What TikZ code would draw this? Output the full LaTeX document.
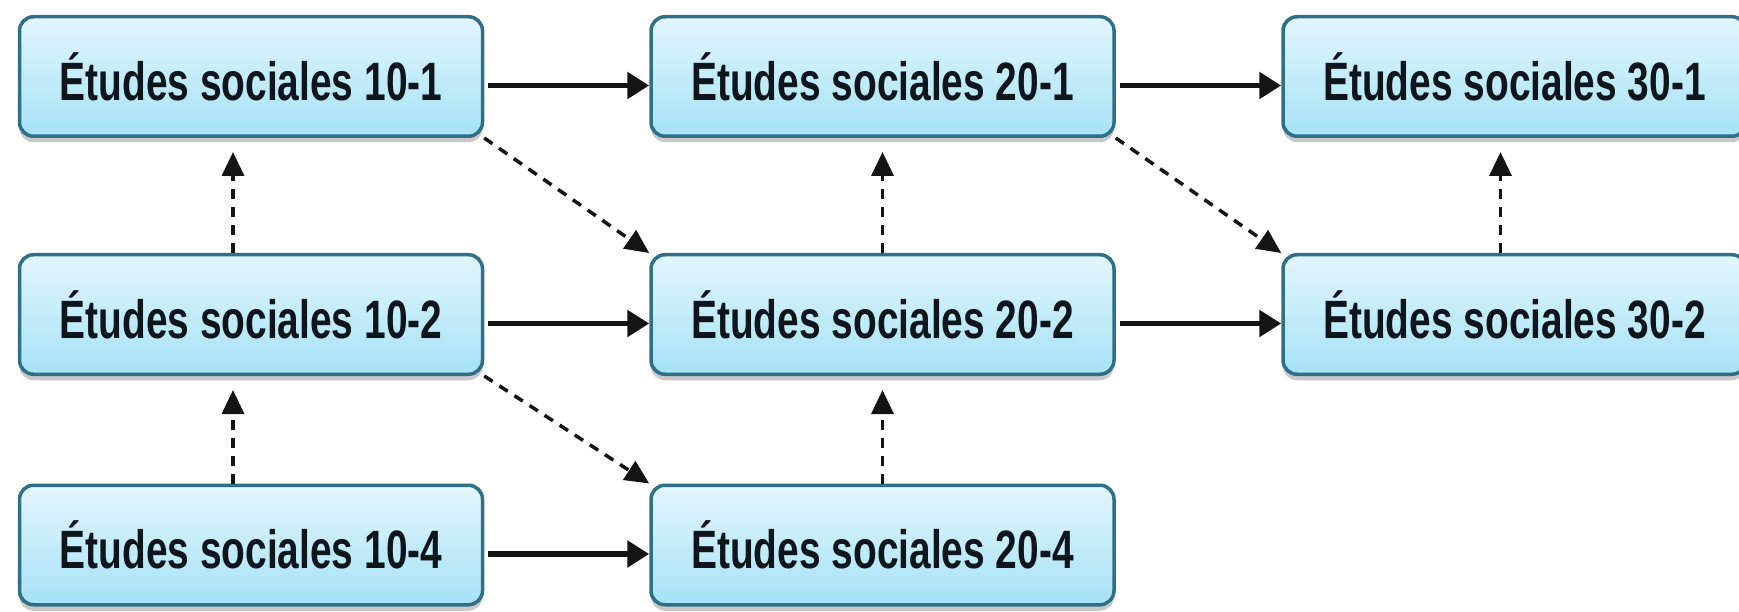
\documentclass[tikz,border=0pt]{standalone}
\usepackage{fontspec}
\newfontfamily\boxfont[FakeStretch=0.72]{Liberation Sans}
\usetikzlibrary{arrows.meta,shadows,calc}
\definecolor{boxborder}{HTML}{2F6F88}
\definecolor{boxtop}{HTML}{E2F6FD}
\definecolor{boxbot}{HTML}{A6E2F6}
\definecolor{txt}{HTML}{0E161C}
\definecolor{arrowcol}{HTML}{141414}
\begin{document}
\begin{tikzpicture}[x=1pt,y=-1pt,
  course/.style={rounded corners=14pt, draw=boxborder, line width=3.5pt,
    top color=boxtop, bottom color=boxbot,
    minimum width=463pt, minimum height=119.5pt, inner sep=0pt,
    font=\boxfont\bfseries\fontsize{54}{60}\selectfont, text=txt,
    drop shadow={shadow xshift=0pt, shadow yshift=-6pt, opacity=0.35, fill=black!60}},
  solidarrow/.style={line width=5.5pt, draw=arrowcol, -{Triangle[length=22pt,width=26pt]}},
  dasharrow/.style={line width=3.5pt, draw=arrowcol, dash pattern=on 10pt off 8pt,
    -{Triangle[length=24pt,width=22pt]}}]
\fill[white] (0,0) rectangle (1739,612);
\useasboundingbox (0,0) rectangle (1739,612);

\node[course] (a1) at (251,76.5)    {Études sociales 10-1};
\node[course] (b1) at (882.5,76.5)  {Études sociales 20-1};
\node[course] (c1) at (1514.5,76.5) {Études sociales 30-1};
\node[course] (a2) at (251,314.5)   {Études sociales 10-2};
\node[course] (b2) at (882.5,314.5) {Études sociales 20-2};
\node[course] (c2) at (1514.5,314.5){Études sociales 30-2};
\node[course] (a4) at (251,545)     {Études sociales 10-4};
\node[course] (b4) at (882.5,545)   {Études sociales 20-4};

% horizontal solid arrows
\draw[solidarrow] ([xshift=4pt,yshift=-9pt]a1.east) -- ([yshift=-9pt]b1.west);
\draw[solidarrow] ([xshift=4pt,yshift=-9pt]b1.east) -- ([yshift=-9pt]c1.west);
\draw[solidarrow] ([xshift=4pt,yshift=-9pt]a2.east) -- ([yshift=-9pt]b2.west);
\draw[solidarrow] ([xshift=4pt,yshift=-9pt]b2.east) -- ([yshift=-9pt]c2.west);
\draw[solidarrow] ([xshift=4pt,yshift=-9pt]a4.east) -- ([yshift=-9pt]b4.west);

% vertical dashed arrows
\draw[dasharrow] ([xshift=-18pt]a2.north) -- ([xshift=-18pt,yshift=-14pt]a1.south);
\draw[dasharrow] ([xshift=-18pt]a4.north) -- ([xshift=-18pt,yshift=-14pt]a2.south);
\draw[dasharrow] (b2.north) -- ([yshift=-14pt]b1.south);
\draw[dasharrow] (b4.north) -- ([yshift=-14pt]b2.south);
\draw[dasharrow] ([xshift=-14pt]c2.north) -- ([xshift=-14pt,yshift=-14pt]c1.south);

% diagonal dashed arrows
\draw[dasharrow] (a1.south east) -- (b2.north west);
\draw[dasharrow] (b1.south east) -- (c2.north west);
\draw[dasharrow] (a2.south east) -- (b4.north west);
\end{tikzpicture}
\end{document}
